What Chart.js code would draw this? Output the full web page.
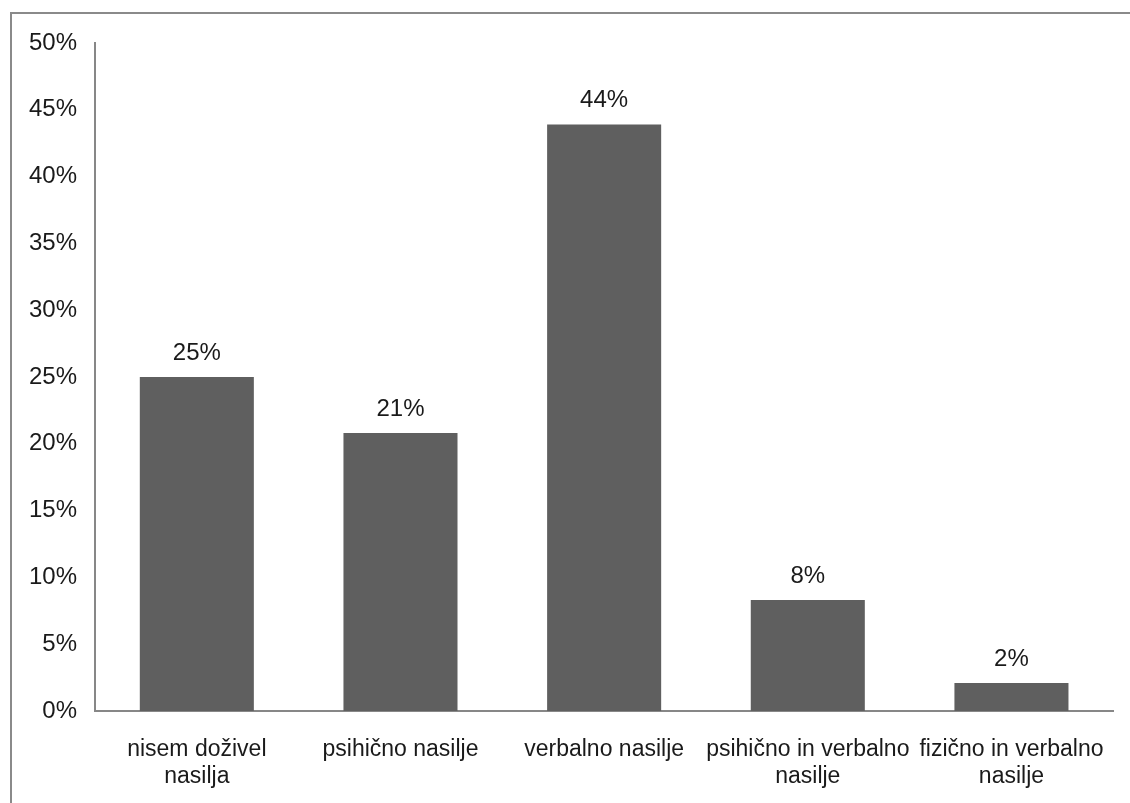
<!DOCTYPE html>
<html>
<head>
<meta charset="utf-8">
<script src="https://cdn.jsdelivr.net/npm/chart.js@4/dist/chart.umd.min.js"></script>
<style>
  html, body { margin: 0; padding: 0; background: #fff; overflow: hidden; }
  #frame {
    position: absolute; left: 10px; top: 12px; width: 1200px; height: 900px;
    border-left: 2px solid #8a8a8a; border-top: 2px solid #8a8a8a;
  }
  #wrap { position: absolute; left: 0; top: 0; width: 1130px; height: 803px; }
</style>
</head>
<body>
<div id="frame"></div>
<div id="wrap"><canvas id="chart"></canvas></div>
<script>
const categories = [
  ['nisem doživel', 'nasilja'],
  ['psihično nasilje'],
  ['verbalno nasilje'],
  ['psihično in verbalno', 'nasilje'],
  ['fizično in verbalno', 'nasilje']
];
const shares = [25.0, 20.8, 43.9, 8.3, 2.1];

const FONT = "'Liberation Sans', Arial, sans-serif";

// value labels above each bar
const barLabels = {
  id: 'barLabels',
  afterDatasetsDraw(chart) {
    const ctx = chart.ctx;
    const meta = chart.getDatasetMeta(0);
    ctx.save();
    ctx.font = '24px ' + FONT;
    ctx.fillStyle = '#1a1a1a';
    ctx.textAlign = 'center';
    ctx.textBaseline = 'alphabetic';
    meta.data.forEach((bar, i) => {
      ctx.fillText(Math.round(shares[i]) + '%', bar.x, bar.y - 17);
    });
    ctx.restore();
  }
};

new Chart(document.getElementById('chart'), {
  type: 'bar',
  data: {
    labels: categories,
    datasets: [{
      data: shares,
      backgroundColor: '#5f5f5f',
      barPercentage: 0.56,
      categoryPercentage: 1
    }]
  },
  options: {
    responsive: true,
    maintainAspectRatio: false,
    animation: false,
    layout: { padding: { left: 0, right: 15, top: 43, bottom: 0 } },
    plugins: { legend: { display: false }, tooltip: { enabled: false } },
    scales: {
      x: {
        grid: { display: false, drawTicks: false },
        border: { color: '#878787', width: 2 },
        ticks: {
          color: '#1a1a1a',
          font: { family: FONT, size: 23, lineHeight: 1.17 },
          padding: 25,
          maxRotation: 0,
          autoSkip: false
        },
        afterFit(scale) { scale.height = 92; }
      },
      y: {
        min: 0,
        max: 50,
        grid: { display: false, drawTicks: false },
        border: { color: '#878787', width: 2 },
        ticks: {
          stepSize: 5,
          color: '#1a1a1a',
          font: { family: FONT, size: 24 },
          padding: 18,
          callback: v => v + '%'
        },
        afterFit(scale) { scale.width = 95; }
      }
    }
  },
  plugins: [barLabels]
});
</script>
</body>
</html>
